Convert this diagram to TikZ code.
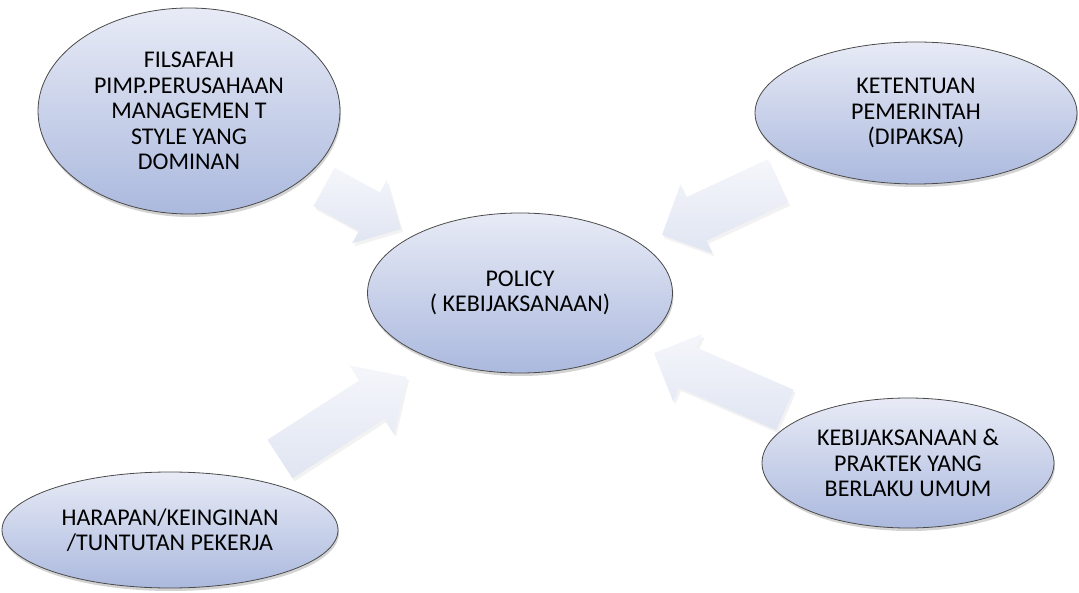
\documentclass[tikz,border=0pt]{standalone}
\usepackage{fontspec}
\setmainfont{Carlito}
\usetikzlibrary{calc,shadows,shapes.geometric}

\definecolor{ovaltop}{HTML}{E8EBF6}
\definecolor{ovalbot}{HTML}{ABB9DE}
\definecolor{arrtop}{HTML}{F5F6FB}
\definecolor{arrbot}{HTML}{E0E5F2}
\definecolor{rim}{HTML}{4A4A4A}

\tikzset{
  oval/.style={ellipse, draw=rim, line width=0.8pt,
    top color=ovaltop, bottom color=ovalbot,
    align=center, inner sep=0pt, text=black,
    font=\fontsize{24}{25.5}\selectfont,
    drop shadow={opacity=0.35, shadow xshift=1pt, shadow yshift=-3pt}},
  blockarrow/.style={top color=arrtop, bottom color=arrbot,
    drop shadow={opacity=0.10, shadow xshift=2pt, shadow yshift=-3pt}},
}

% block arrow from tail #1 to tip #2: shaft half-width #3, head half-width #4, head length #5
\newcommand{\blockarr}[5]{%
  \path ($(#2)!#5!(#1)$) coordinate (neck);
  \path[blockarrow]
    ($(#1)!#3!90:(#2)$) -- ($(neck)!#3!-90:(#1)$) -- ($(neck)!#4!-90:(#1)$)
    -- (#2) -- ($(neck)!#4!90:(#1)$) -- ($(neck)!#3!90:(#1)$)
    -- ($(#1)!#3!-90:(#2)$) -- cycle;
}

\begin{document}
\begin{tikzpicture}[x=1pt, y=-1pt]
  \useasboundingbox (0,0) rectangle (1079,593);

  % arrow ends
  \coordinate (t1) at (324,187); \coordinate (p1) at (401,229);
  \coordinate (t2) at (778,181); \coordinate (p2) at (662,235);
  \coordinate (t3) at (785,410); \coordinate (p3) at (654,353);
  \coordinate (t4) at (280,459); \coordinate (p4) at (407,377);

  \blockarr{t1}{p1}{22pt}{36pt}{36pt}
  \blockarr{t2}{p2}{24pt}{38pt}{38pt}
  \blockarr{t3}{p3}{22pt}{37pt}{37pt}
  \blockarr{t4}{p4}{23pt}{41pt}{42pt}

  % ovals
  \node[oval, minimum width=302pt, minimum height=206pt] (fil) at (189,111)
    {FILSAFAH\\PIMP.PERUSAHAAN\\MANAGEMEN T\\STYLE YANG\\DOMINAN};
  \node[oval, minimum width=305pt, minimum height=160pt] (pol) at (520,293)
    {POLICY\\( KEBIJAKSANAAN)};
  \node[oval, minimum width=322pt, minimum height=142pt] (ket) at (916,113)
    {KETENTUAN\\PEMERINTAH\\(DIPAKSA)};
  \node[oval, minimum width=292pt, minimum height=130pt] (keb) at (908,463)
    {KEBIJAKSANAAN \&\\PRAKTEK YANG\\BERLAKU UMUM};
  \node[oval, minimum width=336pt, minimum height=116pt] (har) at (170,530)
    {HARAPAN/KEINGINAN\\/TUNTUTAN PEKERJA};
\end{tikzpicture}
\end{document}
